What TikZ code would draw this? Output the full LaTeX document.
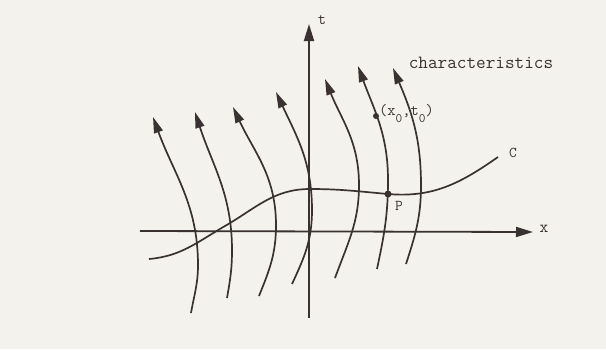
\documentclass[tikz,border=0pt]{standalone}
\usetikzlibrary{arrows.meta}
\definecolor{ink}{HTML}{3A3232}
\definecolor{paper}{HTML}{F4F2EC}
\begin{document}
\begin{tikzpicture}[x=1pt,y=-1pt,
  ink/.style={draw=ink,line width=1.7pt},
  charc/.style={ink,-{Triangle[length=16pt,width=9pt]}},
  axis/.style={ink,line width=1.8pt,-{Triangle[length=17pt,width=10pt]}},
  lbl/.style={text=ink,inner sep=0pt,font=\ttfamily\fontsize{15}{15}\selectfont},
  dotp/.style={circle,fill=ink,inner sep=0pt,minimum size=7pt}]
\fill[paper] (0,0) rectangle (606,349);
\useasboundingbox (0,0) rectangle (606,349);
% axes
\coordinate (xs) at (140,231);
\coordinate (xe) at (533,232);
\coordinate (ts) at (309,318);
\coordinate (te) at (309,24);
\draw[axis] (xs) -- (xe);
\draw[axis] (ts) -- (te);
\node[lbl,font=\ttfamily\fontsize{17}{17}\selectfont] (xl) at (544,229) {x};
\node[lbl,font=\ttfamily\fontsize{16}{16}\selectfont] (tl) at (322,20) {t};
% characteristics: bottom B, rightmost M, tip T
\foreach \bx/\by/\mx/\my/\tx/\ty/\ao/\at in {
  191/313/198/265/153/117/80/110,
  227/298/232/250/195/112/80/108,
  259/296/276/225/233/107/68/115,
  292/284/312/210/276/92/65/115,
  335/278/359/185/325/79/70/112,
  377/269/388/180/358/66/78/110,
  406/264/421/185/393/68/72/113}{
  \draw[charc] (\bx,\by) to[out=\ao,in=-90] (\mx,\my) to[out=90,in=\at+180] (\tx,\ty);
}
% curve C
\coordinate (c0) at (149,259);
\coordinate (c1) at (225,226);
\coordinate (c2) at (310,189);
\coordinate (c3) at (498,157);
\draw[ink] (c0) to[out=5,in=-150] (c1) to[out=30,in=180] (c2)
  to[out=0,in=175] (388,194) to[out=-5,in=-145] (c3);
\node[lbl] (cl) at (513,153) {C};
% P
\node[dotp] (P) at (388,194) {};
\node[lbl] (pl) at (399,206) {P};
% (x0,t0)
\node[dotp,minimum size=6pt] (Q) at (376,116) {};
\node[lbl,anchor=west,font=\ttfamily\fontsize{16}{16}\selectfont] (ql) at (379,114)
  {(x\raisebox{-7pt}{\fontsize{13}{13}\selectfont 0},t\raisebox{-7pt}{\fontsize{13}{13}\selectfont 0})};
\node[lbl,font=\ttfamily\fontsize{18.7}{18.7}\selectfont] (ch) at (481,63) {characteristics};
\end{tikzpicture}
\end{document}
